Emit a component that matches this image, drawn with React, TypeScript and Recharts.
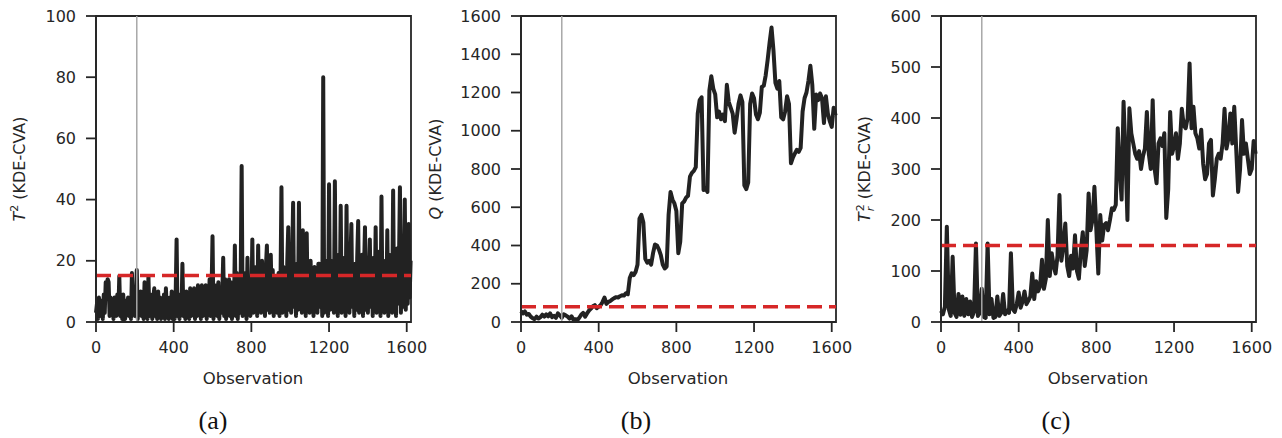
import React from 'react';
import { LineChart, Line, XAxis, YAxis, ReferenceLine, ReferenceArea } from 'recharts';

const OBS_MAX = 1622;
const FAULT_START = 210;

const obsTicks = [0, 400, 800, 1200, 1600];
const t2Ticks = [0, 20, 40, 60, 80, 100];
const qTicks = [0, 200, 400, 600, 800, 1000, 1200, 1400, 1600];
const trTicks = [0, 100, 200, 300, 400, 500, 600];

const t2Limit = 15.2;
const qLimit = 80;
const trLimit = 150;

const t2Step = 5;
const t2Values = [
  3, 6, 1, 8, 4, 2, 7, 1, 9, 3,
  13, 12, 14, 13, 2, 8, 3, 7, 1, 8,
  5, 2, 9, 3, 15, 2, 8, 1, 9, 4,
  1, 7, 3, 8, 2, 6, 1, 16, 3, 7,
  2, 8, 17, 1, 9, 3, 10, 2, 6, 1,
  13, 3, 8, 1, 15, 2, 9, 4, 1, 8,
  11, 2, 7, 1, 10, 3, 8, 1, 6, 2,
  9, 1, 11, 3, 7, 1, 8, 2, 10, 1,
  6, 1, 8, 27, 2, 7, 1, 9, 3, 19,
  2, 8, 1, 10, 3, 7, 1, 11, 2, 9,
  3, 11, 1, 9, 2, 12, 4, 10, 1, 12,
  2, 9, 3, 12, 1, 8, 3, 14, 2, 10,
  28, 1, 9, 3, 12, 2, 13, 1, 10, 3,
  9, 21, 2, 14, 1, 11, 3, 14, 2, 13,
  1, 10, 3, 25, 2, 16, 1, 11, 3, 14,
  51, 2, 14, 4, 16, 1, 21, 3, 13, 2,
  5, 27, 3, 15, 6, 18, 2, 25, 4, 17,
  3, 20, 5, 16, 2, 18, 25, 4, 14, 3,
  22, 5, 17, 2, 15, 4, 14, 3, 16, 2,
  13, 44, 3, 18, 5, 12, 2, 20, 31, 4,
  17, 3, 20, 39, 5, 15, 2, 19, 4, 39,
  6, 18, 3, 30, 5, 21, 2, 29, 6, 17,
  3, 20, 5, 16, 2, 18, 4, 15, 3, 19,
  19, 5, 17, 2, 80, 3, 18, 6, 20, 2,
  45, 4, 20, 6, 17, 3, 46, 5, 19, 2,
  22, 6, 38, 3, 18, 5, 21, 2, 38, 6,
  17, 3, 20, 32, 5, 16, 2, 19, 4, 21,
  33, 3, 18, 6, 22, 2, 17, 31, 4, 20,
  3, 16, 27, 5, 19, 2, 21, 6, 31, 3,
  18, 5, 23, 2, 41, 6, 20, 3, 17, 5,
  30, 2, 22, 6, 18, 3, 43, 5, 20, 2,
  24, 6, 19, 44, 3, 21, 5, 17, 40, 4,
  23, 6, 32, 8, 20,
];

// Q statistic, one value every 10 observations
const qStep = 10;
const qValues = [
  58, 45, 55, 38, 42, 28, 20, 15, 28, 18,
  25, 38, 28, 40, 30, 45, 25, 32, 22, 45,
  35, 22, 40, 35, 28, 18, 30, 12, 15, 10,
  22, 38, 48, 28, 45, 60, 70, 82, 88, 72,
  80, 88, 105, 128, 95, 105, 110, 118, 125, 130,
  128, 135, 140, 138, 150, 145, 230, 255, 245, 262,
  300, 540, 560, 520, 330, 310, 320, 300, 360, 405,
  400, 380, 350, 300, 280, 290, 560, 680, 640, 620,
  580, 360, 420, 620, 630, 650, 660, 760, 780, 790,
  810, 1090, 1160, 1175, 690, 700, 680, 1210, 1285, 1220,
  1190, 1070, 1100, 1060, 1085, 1050, 1240, 1150, 1120, 1090,
  990, 1060, 1140, 1185, 1150, 715, 695, 730, 1140, 1195,
  1170, 1085, 1060, 1095, 1230, 1235, 1290, 1370, 1460, 1540,
  1420, 1250, 1220, 1260, 1070, 1060, 1100, 1180, 1140, 830,
  860, 880, 900, 890, 910, 1100, 1170, 1200, 1260, 1340,
  1240, 1010, 1190, 1160, 1195, 1170, 1040, 1180, 1090, 1050,
  1020, 1120, 1080,
];

// T_r^2 statistic, one value every 10 observations
const trStep = 10;
const trValues = [
  22, 15, 30, 187, 25, 12, 128, 18, 10, 55,
  14, 50, 12, 45, 15, 40, 10, 20, 154, 12,
  18, 65, 10, 8, 154, 15, 45, 8, 10, 50,
  12, 18, 55, 15, 22, 18, 135, 25, 20, 35,
  58, 28, 40, 60, 35, 42, 50, 95, 45, 80,
  60, 70, 122, 65, 85, 200, 90, 135, 110, 95,
  130, 249, 120, 150, 193, 110, 90, 130, 105, 170,
  100, 85, 140, 176, 110, 140, 252, 180, 200, 265,
  180, 95, 210, 160, 190, 194, 180, 200, 223, 220,
  230, 380, 300, 240, 432, 330, 200, 419, 370, 350,
  330, 320, 335, 300, 325, 340, 412, 330, 300, 435,
  300, 272, 350, 360, 345, 370, 204, 260, 412, 330,
  345, 370, 320, 350, 418, 385, 380, 400, 507, 380,
  422, 370, 360, 340, 377, 310, 280, 290, 350, 357,
  248, 280, 320, 330, 320, 350, 418, 340, 360, 409,
  350, 422, 340, 255, 300, 396, 330, 350, 320, 290,
  300, 355, 330,
];

const FONT = "'DejaVu Sans', sans-serif";
const INK = '#262626';

type PanelProps = {
  left: number;
  values: number[];
  step: number;
  yMax: number;
  yTicks: number[];
  limit: number;
};

const Panel = ({ left, values, step, yMax, yTicks, limit }: PanelProps) => {
  const data = values.map((v, i) => ({ obs: i * step, value: v }));
  const tickStyle = { fill: INK, fontSize: 16, fontFamily: FONT };
  return (
    <div style={{ position: 'absolute', left, top: 0 }}>
      <LineChart width={450} height={438} data={data} margin={{ top: 16, right: 39, bottom: 76, left: 0 }}>
        <XAxis
          dataKey="obs"
          type="number"
          domain={[0, OBS_MAX]}
          ticks={obsTicks}
          interval={0}
          height={40}
          tickSize={10}
          tickMargin={10}
          axisLine={{ stroke: INK, strokeWidth: 1.8 }}
          tickLine={{ stroke: INK, strokeWidth: 1.8 }}
          tick={tickStyle}
        />
        <YAxis
          type="number"
          domain={[0, yMax]}
          ticks={yTicks}
          interval={0}
          width={96}
          tickSize={10}
          tickMargin={10}
          axisLine={{ stroke: INK, strokeWidth: 1.8 }}
          tickLine={{ stroke: INK, strokeWidth: 1.8 }}
          tick={tickStyle}
        />
        <ReferenceArea x1={0} x2={OBS_MAX} y1={0} y2={yMax} fill="none" fillOpacity={0} stroke={INK} strokeWidth={1.8} />
        <Line
          type="linear"
          dataKey="value"
          stroke="#222222"
          strokeWidth={4}
          strokeLinejoin="round"
          dot={false}
          activeDot={false}
          isAnimationActive={false}
        />
        <ReferenceLine x={FAULT_START} stroke="#a8a8a8" strokeWidth={1.5} />
        <ReferenceLine y={limit} stroke="#d62728" strokeWidth={3.5} strokeDasharray="15 7" />
      </LineChart>
    </div>
  );
};

const yLabelStyle = (x: number): React.CSSProperties => ({
  position: 'absolute',
  left: x,
  top: 169,
  transform: 'translate(-50%, -50%) rotate(-90deg)',
  whiteSpace: 'nowrap',
  fontFamily: FONT,
  fontSize: 16,
  color: INK,
  lineHeight: '20px',
});

const xLabelStyle = (x: number): React.CSSProperties => ({
  position: 'absolute',
  left: x,
  top: 378,
  transform: 'translate(-50%, -50%)',
  whiteSpace: 'nowrap',
  fontFamily: FONT,
  fontSize: 16.5,
  color: INK,
});

const captionStyle = (x: number): React.CSSProperties => ({
  position: 'absolute',
  left: x,
  top: 421,
  transform: 'translate(-50%, -50%)',
  whiteSpace: 'nowrap',
  fontFamily: "'Liberation Serif', serif",
  fontSize: 26,
  color: '#111',
});

const sup: React.CSSProperties = { fontSize: 11, position: 'relative', top: -7 };

export default function App() {
  return (
    <div style={{ position: 'absolute', left: 0, top: 0, width: 1282, height: 438, background: '#fff' }}>
      <Panel left={0} values={t2Values} step={t2Step} yMax={100} yTicks={t2Ticks} limit={t2Limit} />
      <Panel left={425} values={qValues} step={qStep} yMax={1600} yTicks={qTicks} limit={qLimit} />
      <Panel left={845} values={trValues} step={trStep} yMax={600} yTicks={trTicks} limit={trLimit} />

      <div style={yLabelStyle(21)}>
        <i>T</i><span style={sup}>2</span> (KDE-CVA)
      </div>
      <div style={yLabelStyle(436)}>
        <i>Q</i> (KDE-CVA)
      </div>
      <div style={yLabelStyle(865)}>
        <i>T</i>
        <span
          style={{
            display: 'inline-flex',
            flexDirection: 'column',
            fontSize: 11,
            lineHeight: '10px',
            verticalAlign: 'middle',
            marginLeft: 1,
          }}
        >
          <span>2</span>
          <i>r</i>
        </span>{' '}
        (KDE-CVA)
      </div>

      <div style={xLabelStyle(253)}>Observation</div>
      <div style={xLabelStyle(678)}>Observation</div>
      <div style={xLabelStyle(1098)}>Observation</div>

      <div style={captionStyle(213)}>(a)</div>
      <div style={captionStyle(636)}>(b)</div>
      <div style={captionStyle(1056)}>(c)</div>
    </div>
  );
}
